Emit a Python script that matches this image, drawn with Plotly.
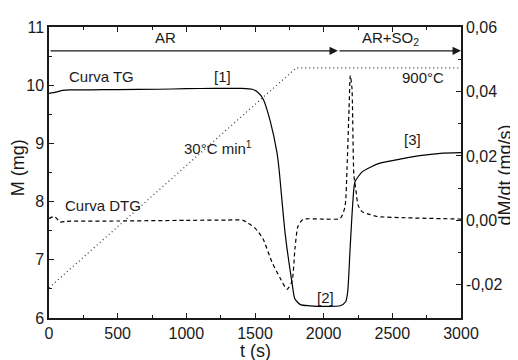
import plotly.graph_objects as go

# ---- data ----
t_tg = [0, 50, 100, 150, 300, 500, 800, 1000, 1200, 1400, 1480, 1520, 1560, 1610, 1660, 1675,
        1720, 1770, 1790, 1830, 1900, 2000, 2120, 2160, 2175, 2192, 2213, 2228, 2280, 2340,
        2410, 2556, 2700, 2850, 3000]
m_tg = [9.86, 9.88, 9.91, 9.92, 9.92, 9.925, 9.93, 9.94, 9.945, 9.945, 9.93, 9.88, 9.76, 9.39,
        8.84, 8.56, 7.44, 6.60, 6.33, 6.23, 6.21, 6.20, 6.21, 6.28, 6.45, 7.17, 8.01, 8.34, 8.51,
        8.59, 8.66, 8.73, 8.79, 8.83, 8.84]

t_dtg = [0, 40, 80, 130, 500, 1000, 1300, 1413, 1500, 1558, 1624, 1682, 1733, 1769, 1791, 1813,
         1850, 2000, 2120, 2155, 2170, 2185, 2194, 2206, 2220, 2235, 2250, 2279, 2337, 2388,
         2600, 3000]
d_dtg = [0.0006, 0.0012, -0.0005, -0.0003, -0.0002, 0.0, 0.0001, 0.0, -0.0024, -0.0057, -0.013,
         -0.0178, -0.0214, -0.019, -0.0088, -0.0018, 0.0003, 0.0004, 0.0006, 0.0042, 0.016,
         0.035, 0.045, 0.041, 0.014, 0.0094, 0.0048, 0.0027, 0.0018, 0.0012, 0.0008, 0.0004]

t_temp = [0, 1800, 3000]
temp_c = [25, 900, 900]

x_ticks = [0, 500, 1000, 1500, 2000, 2500, 3000]
y_ticks = [6, 7, 8, 9, 10, 11]
y2_vals = [-0.02, 0.0, 0.02, 0.04, 0.06]
y2_text = ["-0,02", "0,00", "0,02", "0,04", "0,06"]

FONT = "Liberation Sans, Arial, Helvetica, sans-serif"
INK = "#1a1a1a"

fig = go.Figure()
fig.add_trace(go.Scatter(x=t_temp, y=temp_c, yaxis="y3", mode="lines",
                         line=dict(color="#333333", width=1.2, dash="1px,3px"),
                         showlegend=False, hoverinfo="skip"))
fig.add_trace(go.Scatter(x=t_tg, y=m_tg, yaxis="y", mode="lines",
                         line=dict(color="black", width=1.2, shape="spline", smoothing=0.6),
                         showlegend=False))
fig.add_trace(go.Scatter(x=t_dtg, y=d_dtg, yaxis="y2", mode="lines",
                         line=dict(color="black", width=1.2, dash="4px,3px", shape="spline",
                                   smoothing=0.6),
                         showlegend=False))

axis_common = dict(showgrid=False, zeroline=False, showline=True, linecolor=INK, linewidth=1.5,
                   ticks="inside", ticklen=5, tickwidth=1.2, tickcolor=INK,
                   tickfont=dict(family=FONT, size=16, color=INK))

# page body has an 8px margin, so the figure is drawn 8px in from the window corner
fig.update_layout(
    width=510, height=352,
    margin=dict(l=41, r=57, t=11, b=42),
    paper_bgcolor="white", plot_bgcolor="white",
    separators=",.",
    font=dict(family=FONT, color=INK),
    xaxis=dict(range=[0, 3000], tickvals=x_ticks, mirror="ticks",
               minor=dict(ticks="inside", dtick=250, tick0=0, ticklen=3, tickcolor=INK),
               **axis_common),
    yaxis=dict(range=[6, 11], tickvals=y_ticks,
               minor=dict(ticks="inside", dtick=0.5, tick0=6, ticklen=3, tickcolor=INK),
               **axis_common),
    yaxis2=dict(range=[-0.0303, 0.06], overlaying="y", side="right", anchor="x",
                tickvals=y2_vals, ticktext=y2_text,
                minor=dict(ticks="inside", dtick=0.01, tick0=0, ticklen=3, tickcolor=INK),
                **axis_common),
    yaxis3=dict(range=[-95, 1062.6], overlaying="y", visible=False),
)

def txt(x, y, s, xanchor="center", size=15):
    fig.add_annotation(x=x, y=y, xref="x", yref="y", text=s, showarrow=False,
                       xanchor=xanchor, yanchor="middle",
                       font=dict(family=FONT, size=size, color=INK))

txt(131, 10.15, "Curva TG", xanchor="left")
txt(1260, 10.15, "[1]")
txt(968, 8.93, "30°C min<sup>1</sup>", xanchor="left")
txt(102, 7.94, "Curva DTG", xanchor="left")
txt(2010, 6.35, "[2]")
txt(2650, 9.06, "[3]")
txt(2891, 10.13, "900°C", xanchor="right")
txt(845, 10.82, "AR")
txt(2490, 10.80, "AR+SO<sub>2</sub>")

# atmosphere arrows
for x0, x1 in [(0, 2104), (2104, 3000)]:
    fig.add_annotation(x=x1, y=10.59, ax=x0, ay=10.59, xref="x", yref="y", axref="x", ayref="y",
                       text="", showarrow=True, arrowhead=2, arrowsize=1.3, arrowwidth=1.3,
                       arrowcolor=INK, standoff=0, startstandoff=0)

# axis titles
fig.add_annotation(x=-0.0752, y=0.515, xref="paper", yref="paper", text="M (mg)", textangle=-90,
                   xanchor="center", yanchor="middle",
                   showarrow=False, font=dict(family=FONT, size=18, color=INK))
fig.add_annotation(x=1.1068, y=0.49, xref="paper", yref="paper", text="dM/dt (mg/s)",
                   textangle=-90, xanchor="center", yanchor="middle",
                   showarrow=False, font=dict(family=FONT, size=18, color=INK))
fig.add_annotation(x=0.5, y=-0.113, xref="paper", yref="paper", text="t (s)",
                   xanchor="center", yanchor="middle",
                   showarrow=False, font=dict(family=FONT, size=18, color=INK))

fig.write_html("out.html")
